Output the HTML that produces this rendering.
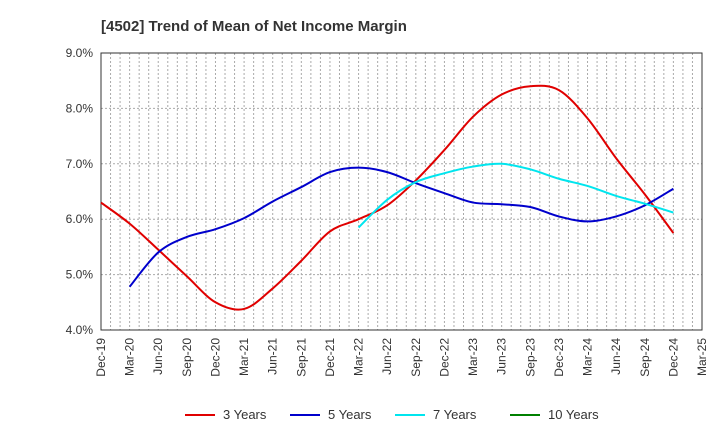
<!DOCTYPE html>
<html><head><meta charset="utf-8"><style>
body{margin:0;background:#fff;font-family:"Liberation Sans",sans-serif}
</style></head><body>
<svg id="c" width="720" height="440" xmlns="http://www.w3.org/2000/svg" font-family="Liberation Sans, sans-serif">
<text x="101" y="31" font-size="15" font-weight="bold" fill="#333">[4502]  Trend of Mean of Net Income Margin</text>
<g id="grid"></g><g id="axes"></g><g id="series"></g><g id="legend"></g>
</svg>
<script>
const xLabels=["Dec-19","Mar-20","Jun-20","Sep-20","Dec-20","Mar-21","Jun-21","Sep-21","Dec-21","Mar-22","Jun-22","Sep-22","Dec-22","Mar-23","Jun-23","Sep-23","Dec-23","Mar-24","Jun-24","Sep-24","Dec-24","Mar-25"];
const yTicks=[4,5,6,7,8,9];
const y3=[6.3,5.92,5.45,4.97,4.5,4.38,4.75,5.25,5.78,6.0,6.25,6.7,7.25,7.85,8.25,8.4,8.33,7.82,7.1,6.45,5.75];
const y5=[null,4.78,5.4,5.68,5.82,6.02,6.32,6.58,6.85,6.93,6.85,6.65,6.47,6.3,6.27,6.22,6.05,5.96,6.05,6.25,6.55];
const y7=[null,null,null,null,null,null,null,null,null,5.85,6.35,6.67,6.83,6.95,7.0,6.9,6.73,6.6,6.42,6.28,6.12];
const y10=[];
const L=101,R=702,T=53,B=330,NS="http://www.w3.org/2000/svg";
const X=i=>L+i*(R-L)/21, Y=v=>B-(v-4)*(B-T)/5;
function mk(t,a,p){const e=document.createElementNS(NS,t);for(const k in a)e.setAttribute(k,a[k]);p.appendChild(e);return e;}
const g=document.getElementById('grid'),ax=document.getElementById('axes'),s=document.getElementById('series'),lg=document.getElementById('legend');
for(let m=1;m<63;m++){const x=L+m*(R-L)/63;const e=mk('line',{x1:x,x2:x,y1:T,y2:B,stroke:'#aaa','stroke-dasharray':'2,2','stroke-width':1},g);
}
yTicks.forEach(v=>{const e=mk('line',{x1:L,x2:R,y1:Y(v),y2:Y(v),stroke:'#aaa','stroke-dasharray':'2,2'},g);

const t=mk('text',{x:L-8,y:Y(v)+4,'text-anchor':'end','font-size':12,fill:'#333'},ax);t.textContent=v.toFixed(1)+'%';
});
const f=mk('rect',{x:L,y:T,width:R-L,height:B-T,fill:'none',stroke:'#333'},ax);

xLabels.forEach((l,i)=>{const t=mk('text',{transform:`translate(${X(i)+4},${B+8}) rotate(-90)`,'text-anchor':'end','font-size':12,fill:'#333'},ax);t.textContent=l;
});
function path(arr){const p=[];arr.forEach((v,i)=>{if(v!=null)p.push([X(i),Y(v)]);});if(p.length<2)return'';
let d=`M${p[0][0]},${p[0][1]}`;for(let i=0;i<p.length-1;i++){const a=p[i-1]||p[i],b=p[i],c=p[i+1],e=p[i+2]||c;
d+=`C${b[0]+(c[0]-a[0])/6},${b[1]+(c[1]-a[1])/6} ${c[0]-(e[0]-b[0])/6},${c[1]-(e[1]-b[1])/6} ${c[0]},${c[1]}`;}return d;}
[[y3,'#e00000','3 Years','series-3-years'],[y5,'#0000cc','5 Years','series-5-years'],[y7,'#00e5ee','7 Years','series-7-years'],[y10,'#008000','10 Years','series-10-years']].forEach((q,k)=>{
const d=path(q[0]);if(d){const e=mk('path',{d:d,fill:'none',stroke:q[1],'stroke-width':2},s);}
const lx=[185,290,395,510][k];const gi=mk('g',{},lg);
mk('line',{x1:lx,x2:lx+30,y1:415,y2:415,stroke:q[1],'stroke-width':2},gi);
const t=mk('text',{x:lx+38,y:419,'font-size':13,fill:'#333'},gi);t.textContent=q[2];});
</script>
</body></html>
